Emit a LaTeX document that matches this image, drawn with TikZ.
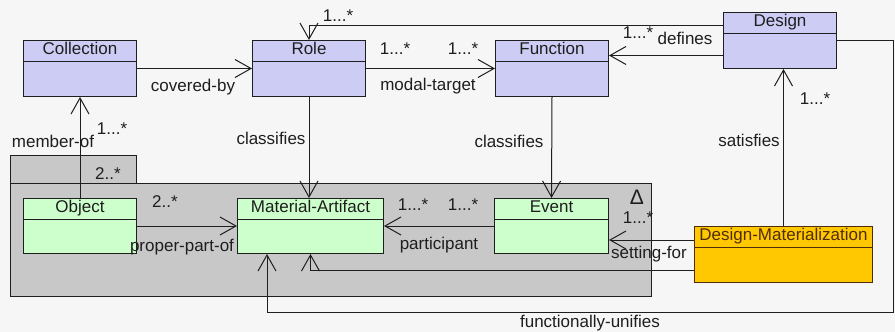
\documentclass[tikz,border=0pt]{standalone}
\usepackage{fontspec}
\setmainfont{Liberation Sans}
\usetikzlibrary{arrows.meta}

\definecolor{bgcol}{RGB}{246,246,246}
\definecolor{classblue}{RGB}{204,204,245}
\definecolor{classgreen}{RGB}{204,255,204}
\definecolor{classorange}{RGB}{255,200,0}
\definecolor{dmbrown}{RGB}{80,45,10}
\definecolor{pkggray}{RGB}{200,200,200}
\definecolor{ink}{RGB}{30,30,30}

\tikzset{
  every node/.style={font=\fontsize{17pt}{20pt}\selectfont, text=ink},
  cls/.style={line width=1pt, anchor=north west, inner sep=0pt},
  pkg/.style={draw=ink, fill=pkggray, line width=1pt, anchor=north west, inner sep=0pt},
  lbl/.style={inner sep=0pt, text height=12pt, text depth=3.5pt},
  assoc/.style={draw=ink, line width=1pt,
    -{Straight Barb[length=16pt, width=18pt, line width=1pt]}},
}

% UML class box: name, fill, border, x, y, width, height, title
\newcommand\umlclass[8]{%
  \node[cls, fill=#2, draw=#3, minimum width=#6pt, minimum height=#7pt] (#1) at (#4,#5) {};
  \draw[draw=#3, line width=1pt] ([yshift=-21pt]#1.north west) -- ([yshift=-21pt]#1.north east);
  \node[lbl, text=#3] (#1-title) at ([yshift=-10.5pt]#1.north) {#8};
}

\begin{document}
\begin{tikzpicture}[x=1pt, y=-1pt]
  \useasboundingbox (0,0) rectangle (895,332);
  \fill[bgcol] (0,0) rectangle (895,332);

  % package with its tab
  \node[pkg, minimum width=126pt, minimum height=28pt] (pkgtab) at (10,155) {};
  \node[pkg, minimum width=641pt, minimum height=113pt] (pkg) at (10,183) {};
  \node[inner sep=0pt, font=\fontsize{21pt}{24pt}\selectfont] (pkgmark) at (637,197) {Δ};

  % classes
  \umlclass{coll}{classblue}{ink}{23}{40}{113}{56}{Collection}
  \umlclass{role}{classblue}{ink}{252}{40}{113}{56}{Role}
  \umlclass{func}{classblue}{ink}{495}{40}{113}{56}{Function}
  \umlclass{design}{classblue}{ink}{723}{12}{113}{56}{Design}
  \umlclass{obj}{classgreen}{ink}{23}{198}{113}{55}{Object}
  \umlclass{ma}{classgreen}{ink}{237}{198}{146}{55}{Material-Artifact}
  \umlclass{event}{classgreen}{ink}{494}{198}{114}{55}{Event}
  \umlclass{dm}{classorange}{dmbrown}{694}{226}{178}{56}{Design-Materialization}

  % associations
  \draw[assoc] (coll.east) -- (role.west);
  \draw[assoc] (role.east) -- (func.west);
  \draw[assoc] ([yshift=-13pt]design.north west) -| (role.north);
  \draw[assoc] ([yshift=-15pt]design.west) -- ([yshift=-15pt]design.west -| func.east);
  \draw[assoc] (obj.north) -- (coll.south);
  \draw[assoc] (role.south) -- (role.south |- ma.north);
  \draw[assoc] (func.south) -- (event.north);
  \draw[assoc] (obj.east) -- (obj.east -| ma.west);
  \draw[assoc] (event.west) -- (event.west -| ma.east);
  \draw[assoc] ([yshift=-14pt]dm.north west) -- ([yshift=-14pt]dm.north west -| event.east);
  \draw[assoc] ([yshift=13pt]dm.south west) -| (ma.south);
  \draw[assoc] (dm.north) -- (dm.north |- design.south);
  \coordinate (fuR) at (893,312);
  \coordinate (fuL) at (267,312);
  \draw[assoc] (design.east) -| (fuR) -- (fuL) -- (fuL |- ma.south);

  % role names and multiplicities
  \node[lbl] (m-defrole) at (338,17) {1...*};
  \node[lbl] (m-mt1) at (395,50) {1...*};
  \node[lbl] (m-mt2) at (463,50) {1...*};
  \node[lbl] (t-cov) at (193,87) {covered-by};
  \node[lbl] (t-mt) at (428,86) {modal-target};
  \node[lbl] (m-def) at (638,34) {1...*};
  \node[lbl] (t-def) at (685,40) {defines};
  \node[lbl] (m-sat) at (815,100) {1...*};
  \node[lbl] (t-sat) at (749,142) {satisfies};
  \node[lbl] (t-cl1) at (271,140) {classifies};
  \node[lbl] (t-cl2) at (509,143) {classifies};
  \node[lbl] (t-mem) at (53,143) {member-of};
  \node[lbl] (m-mem) at (112,130) {1...*};
  \node[lbl] (m-tab) at (108,175) {2..*};
  \node[lbl] (m-pp) at (165,203) {2..*};
  \node[lbl] (t-pp) at (182,247) {proper-part-of};
  \node[lbl] (m-pa1) at (413,206) {1...*};
  \node[lbl] (m-pa2) at (463,206) {1...*};
  \node[lbl] (t-pa) at (439,245) {participant};
  \node[lbl] (m-sf) at (638,219) {1...*};
  \node[lbl] (t-sf) at (649,254) {setting-for};
  \node[lbl] (t-fu) at (590,323) {functionally-unifies};
\end{tikzpicture}
\end{document}
